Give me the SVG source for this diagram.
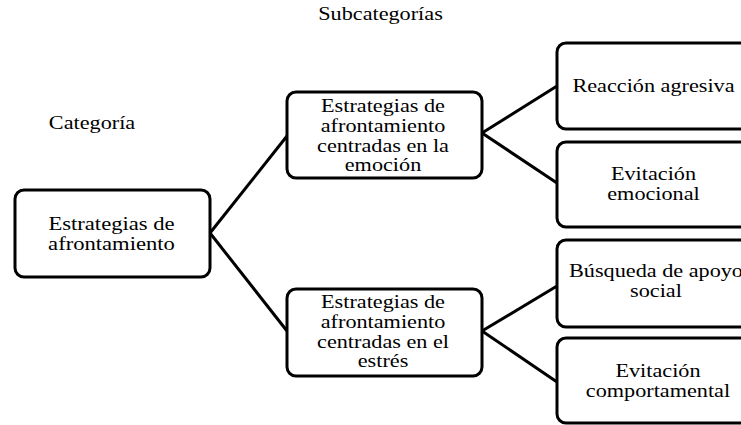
<svg xmlns="http://www.w3.org/2000/svg" width="741" height="425" viewBox="0 0 741 425">
<style>
.box{fill:#fff;stroke:#000;stroke-width:3}
.t{font-family:'Liberation Serif','DejaVu Serif',serif;font-size:19px;fill:#000;text-anchor:middle}
.c{stroke:#000;stroke-width:3;fill:none}
</style>
<rect width="741" height="425" fill="#fff"/>
<text class="t" font-family="Liberation Serif" transform="translate(380.5,20) scale(1.17,1)">Subcategorías</text>
<text class="t" font-family="Liberation Serif" transform="translate(92,129) scale(1.17,1)">Categoría</text>
<g id="connectors">
<line class="c" x1="210" y1="233" x2="287" y2="136"/>
<line class="c" x1="210" y1="233" x2="287" y2="331"/>
<line class="c" x1="482" y1="133" x2="557" y2="86"/>
<line class="c" x1="482" y1="133" x2="557" y2="183"/>
<line class="c" x1="482" y1="331" x2="557" y2="286"/>
<line class="c" x1="482" y1="331" x2="557" y2="382"/>
</g>
<g id="root">
<rect class="box" x="15" y="190" width="195" height="87" rx="9"/>
<text class="t" font-family="Liberation Serif" transform="translate(111.5,230) scale(1.19,1)">Estrategias de</text>
<text class="t" font-family="Liberation Serif" transform="translate(111.5,250) scale(1.19,1)">afrontamiento</text>
</g>
<g id="emocion">
<rect class="box" x="287" y="92" width="195" height="86" rx="9"/>
<text class="t" font-family="Liberation Serif" transform="translate(383,112) scale(1.17,1)">Estrategias de</text>
<text class="t" font-family="Liberation Serif" transform="translate(383,132) scale(1.17,1)">afrontamiento</text>
<text class="t" font-family="Liberation Serif" transform="translate(383,152) scale(1.17,1)">centradas en la</text>
<text class="t" font-family="Liberation Serif" transform="translate(383,171) scale(1.17,1)">emoción</text>
</g>
<g id="estres">
<rect class="box" x="287" y="289" width="195" height="87" rx="9"/>
<text class="t" font-family="Liberation Serif" transform="translate(383,308) scale(1.17,1)">Estrategias de</text>
<text class="t" font-family="Liberation Serif" transform="translate(383,328) scale(1.17,1)">afrontamiento</text>
<text class="t" font-family="Liberation Serif" transform="translate(383,348) scale(1.17,1)">centradas en el</text>
<text class="t" font-family="Liberation Serif" transform="translate(383,367) scale(1.17,1)">estrés</text>
</g>
<g id="reaccion">
<rect class="box" x="557" y="43" width="210" height="86" rx="9"/>
<text class="t" font-family="Liberation Serif" transform="translate(653.5,92) scale(1.17,1)">Reacción agresiva</text>
</g>
<g id="evitacion-emocional">
<rect class="box" x="557" y="142" width="210" height="85" rx="9"/>
<text class="t" font-family="Liberation Serif" transform="translate(653.5,180) scale(1.17,1)">Evitación</text>
<text class="t" font-family="Liberation Serif" transform="translate(653.5,200) scale(1.17,1)">emocional</text>
</g>
<g id="busqueda">
<rect class="box" x="557" y="240" width="210" height="87" rx="9"/>
<text class="t" font-family="Liberation Serif" transform="translate(656,277) scale(1.17,1)">Búsqueda de apoyo</text>
<text class="t" font-family="Liberation Serif" transform="translate(656,297) scale(1.17,1)">social</text>
</g>
<g id="evitacion-comportamental">
<rect class="box" x="557" y="338" width="210" height="85" rx="9"/>
<text class="t" font-family="Liberation Serif" transform="translate(658,377) scale(1.17,1)">Evitación</text>
<text class="t" font-family="Liberation Serif" transform="translate(658,397) scale(1.17,1)">comportamental</text>
</g>
</svg>
